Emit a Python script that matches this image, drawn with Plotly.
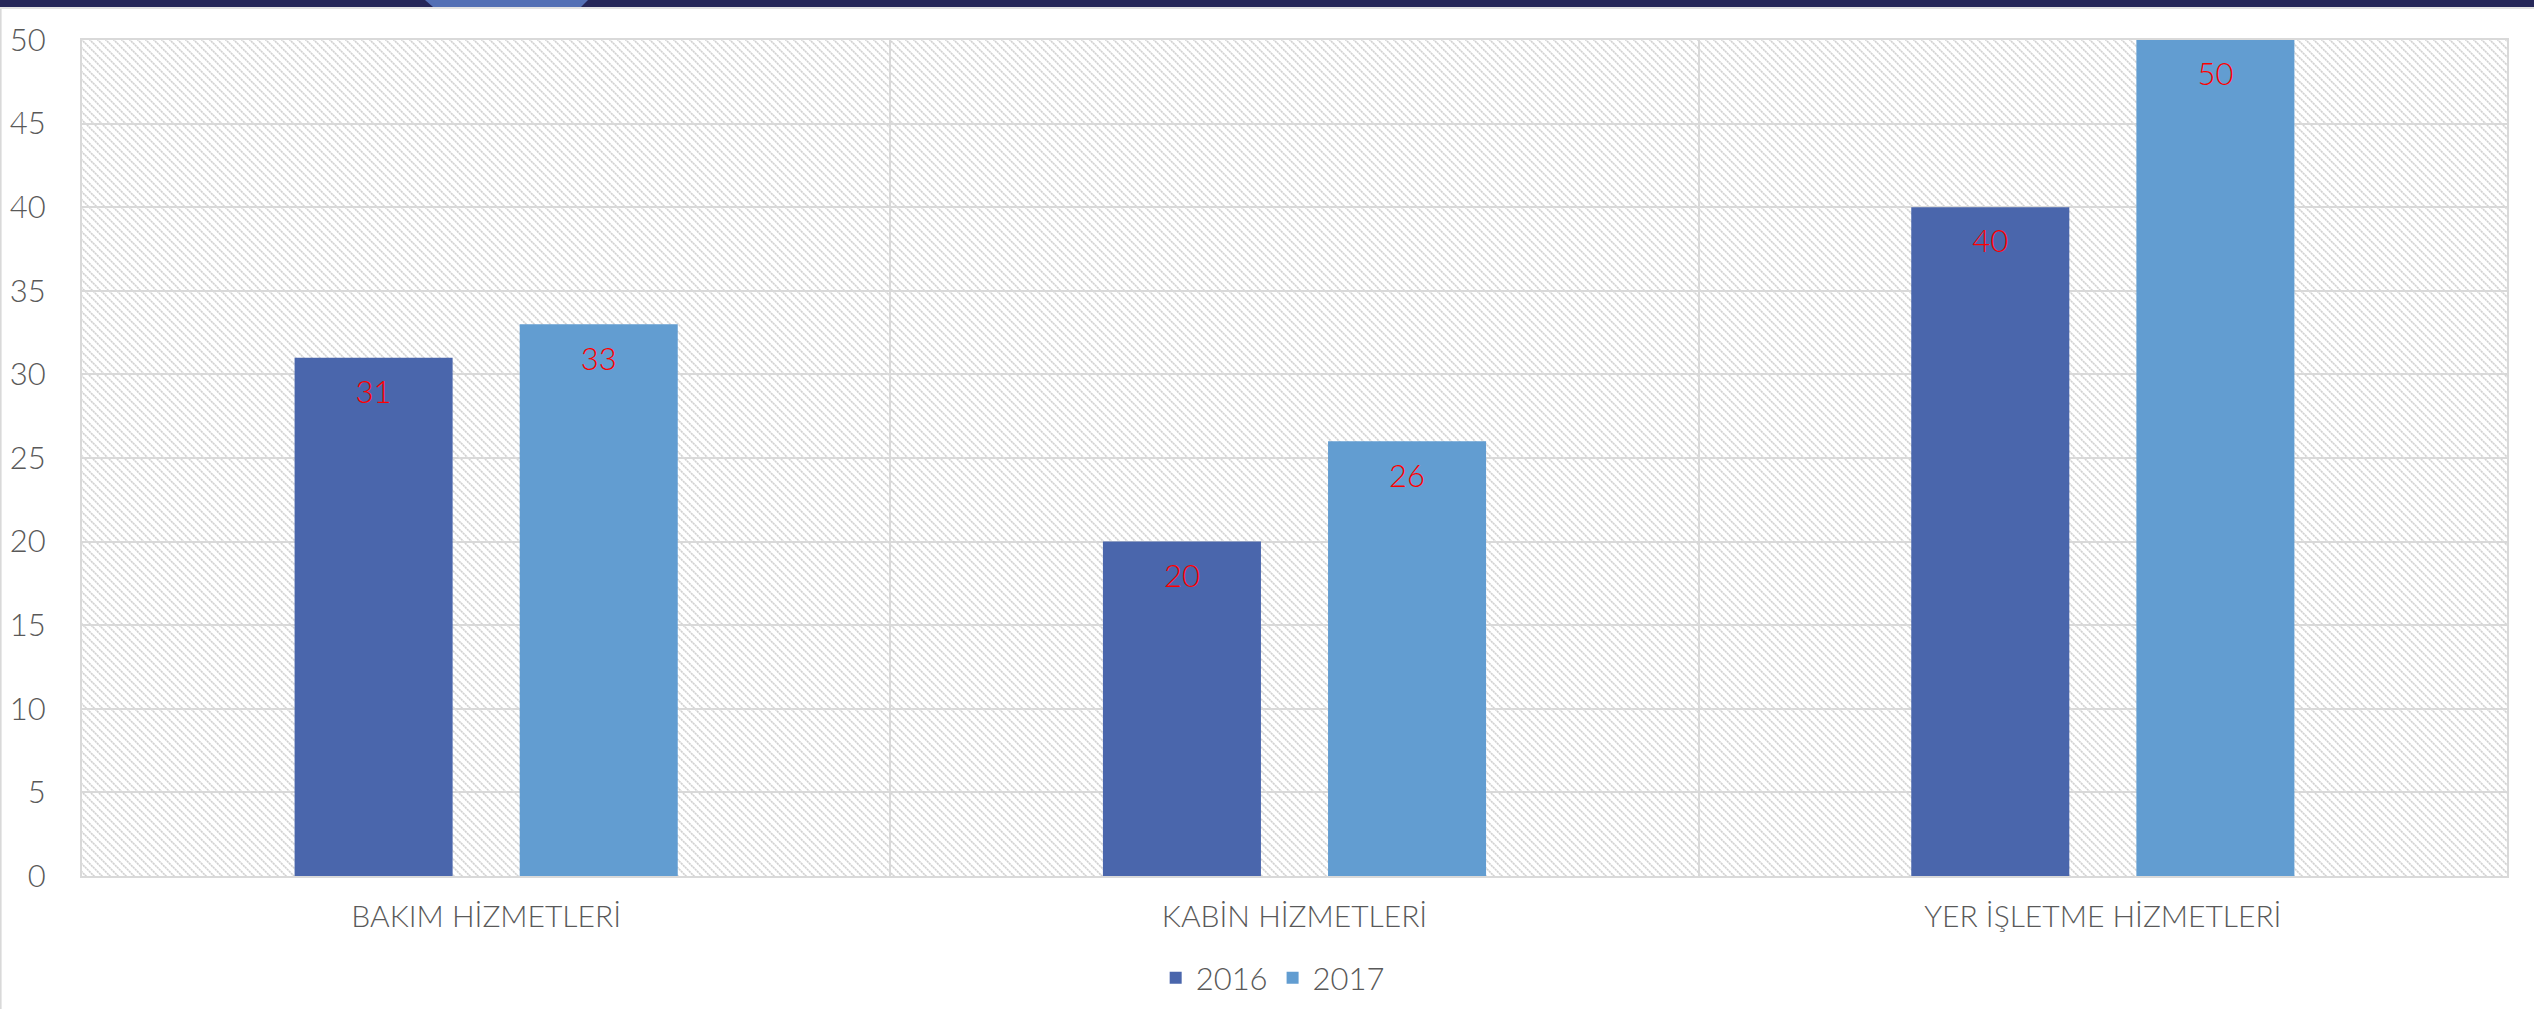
import base64
import plotly.graph_objects as go

categories = ["BAKIM HİZMETLERİ", "KABİN HİZMETLERİ", "YER İŞLETME HİZMETLERİ"]
series_names = ["2016", "2017"]
values_2016 = [31, 20, 40]
values_2017 = [33, 26, 50]
y_ticks = [0, 5, 10, 15, 20, 25, 30, 35, 40, 45, 50]

W, H = 2534, 1009
ML, MR, MT, MB = 82, 27, 40, 133
PW, PH = W - ML - MR, H - MT - MB

FONT = "Lato Light, Lato, 'Noto Sans', sans-serif"
GREY_TXT = "#595959"
GRID = "#D9D9D9"
C2016 = "#4A66AC"
C2017 = "#629DD1"


def px_x(px):
    return (px - ML) / PW


def px_y(py):
    return (H - MB - py) / PH


# hatched plot background as an svg image
svg = (
    f'<svg xmlns="http://www.w3.org/2000/svg" width="{PW}" height="{PH}" '
    f'viewBox="0 0 {PW} {PH}" preserveAspectRatio="none">'
    '<defs><pattern id="h" width="8" height="8" patternUnits="userSpaceOnUse">'
    '<path d="M-1,-1 L9,9 M7,-1 L9,1 M-1,7 L1,9" stroke="#D2D2D2" stroke-width="1.7" '
    'stroke-dasharray="2.2,0.6"/>'
    '</pattern></defs>'
    f'<rect width="{PW}" height="{PH}" fill="#FFFFFF"/>'
    f'<rect width="{PW}" height="{PH}" fill="url(#h)"/></svg>'
)
svg_uri = "data:image/svg+xml;base64," + base64.b64encode(svg.encode()).decode()

fig = go.Figure()
for name, vals, col in [(series_names[0], values_2016, C2016), (series_names[1], values_2017, C2017)]:
    fig.add_trace(go.Bar(
        name=name, x=categories, y=vals, marker=dict(color=col, line=dict(width=0)),
        text=[str(v) for v in vals],
        texttemplate="<span style='font-size:2px'>\u00a0</span><br>%{text}",
        textposition="inside", insidetextanchor="end",
        textangle=0, textfont=dict(color="#FF0000", size=31, family=FONT),
    ))

fig.update_layout(
    width=W, height=H,
    margin=dict(l=ML, r=MR, t=MT, b=MB, pad=0, autoexpand=False),
    paper_bgcolor="white", plot_bgcolor="rgba(0,0,0,0)",
    barmode="group", bargap=0.443, bargroupgap=0.298,
    font=dict(family=FONT, color=GREY_TXT, size=31),
    showlegend=True,
    legend=dict(orientation="h", x=0.491, xanchor="center", y=px_y(978), yanchor="middle",
                font=dict(size=31, color=GREY_TXT, family=FONT), itemwidth=30,
                bgcolor="rgba(0,0,0,0)"),
    images=[dict(source=svg_uri, xref="paper", yref="paper", x=0, y=1, sizex=1, sizey=1,
                 xanchor="left", yanchor="top", sizing="stretch", layer="below")],
    shapes=[
        dict(type="rect", xref="paper", yref="paper", x0=px_x(0), x1=px_x(W), y0=px_y(7), y1=px_y(0),
             fillcolor="#262759", line=dict(width=0), layer="above"),
        dict(type="rect", xref="paper", yref="paper", x0=px_x(0), x1=px_x(W), y0=px_y(9), y1=px_y(7),
             fillcolor="#E3E3E3", line=dict(width=0), layer="above"),
        dict(type="path", xref="paper", yref="paper",
             path=f"M{px_x(425)},{px_y(0)} L{px_x(588)},{px_y(0)} L{px_x(581)},{px_y(7)} L{px_x(433)},{px_y(7)} Z",
             fillcolor="#5470B5", line=dict(width=0), layer="above"),
        dict(type="line", xref="paper", yref="paper", x0=px_x(0.8), x1=px_x(0.8), y0=px_y(9), y1=px_y(H),
             line=dict(color="#D9D9D9", width=1.6), layer="above"),
    ],
)

fig.update_xaxes(
    type="category", tickson="boundaries", showgrid=True, gridcolor=GRID, gridwidth=1.5,
    showline=True, linecolor=GRID, linewidth=2, mirror=True, automargin=False,
    ticks="", ticklabelstandoff=13, tickfont=dict(size=30, color=GREY_TXT, family=FONT),
)
fig.update_yaxes(
    range=[0, 50], tickvals=y_ticks, ticktext=[str(t) for t in y_ticks],
    showgrid=True, gridcolor=GRID, gridwidth=2, zeroline=False,
    showline=True, linecolor=GRID, linewidth=2, mirror=True, automargin=False,
    ticks="", ticklabelstandoff=28, tickfont=dict(size=31, color=GREY_TXT, family=FONT),
)

fig.write_html(
    "out.html",
    config={"displayModeBar": False},
    post_script="document.body.style.margin='0';document.body.style.overflow='hidden';",
)
